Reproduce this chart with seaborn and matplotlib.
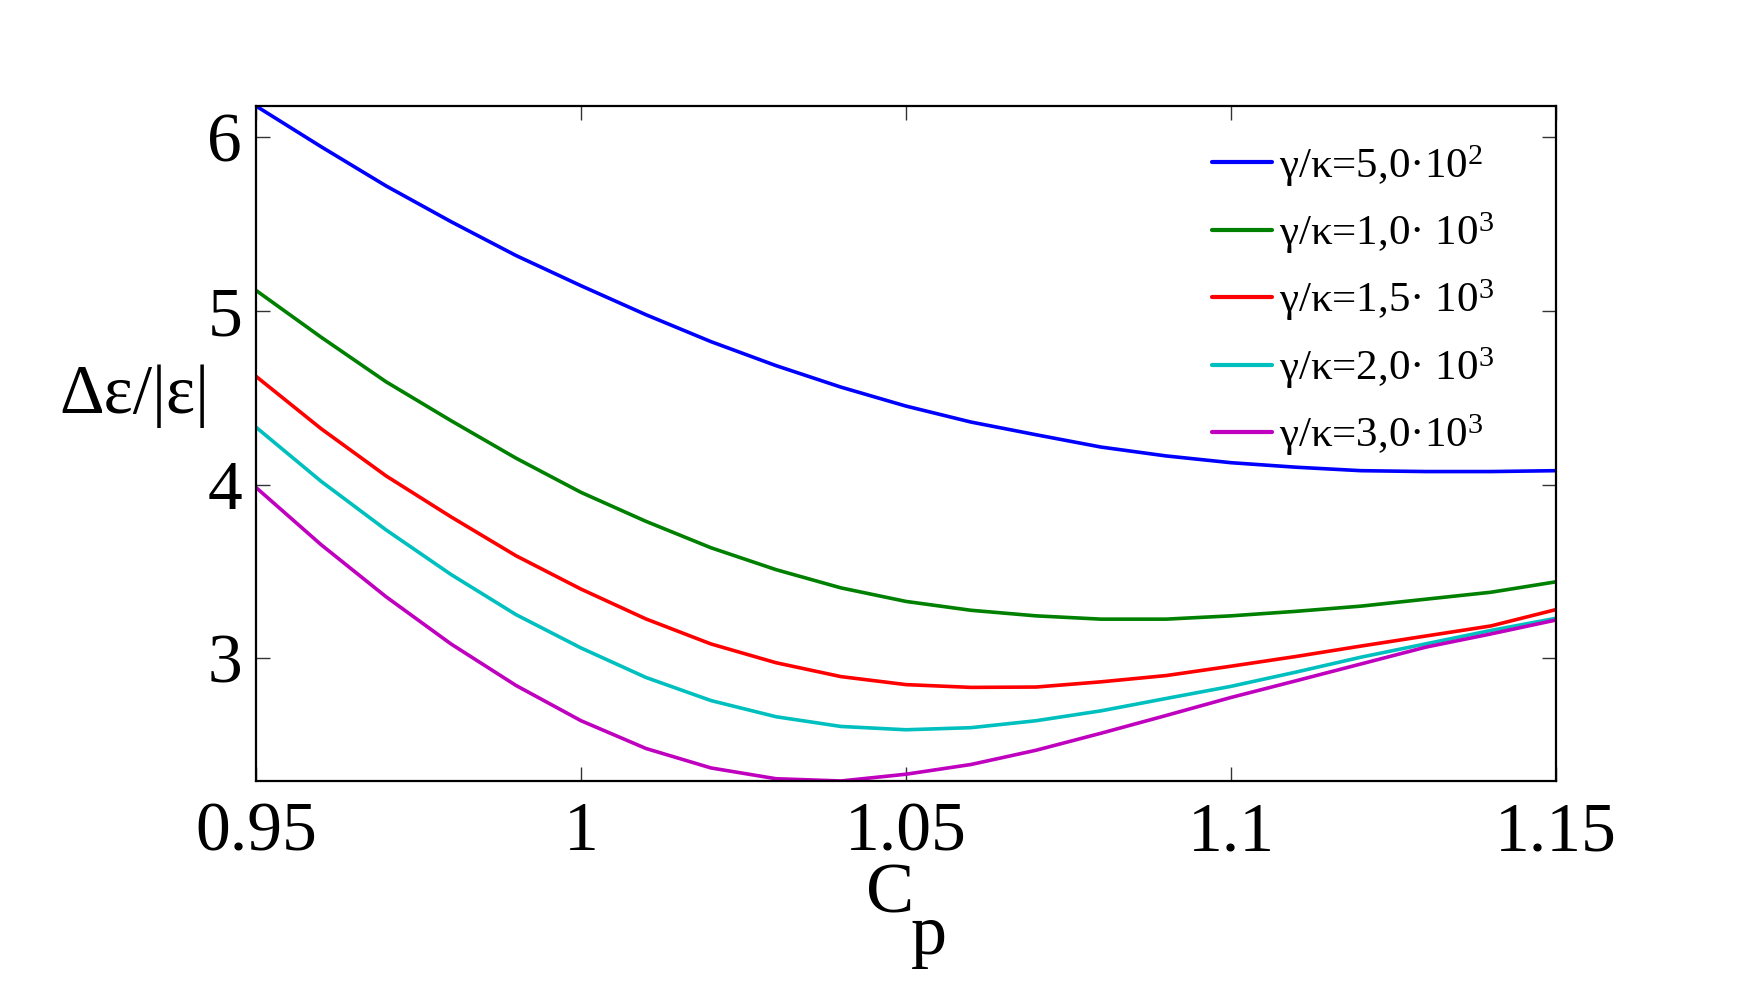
import numpy as np
import pandas as pd
import seaborn as sns
import matplotlib
matplotlib.use("Agg")
import matplotlib.pyplot as plt

# values
cp = [0.95, 0.96, 0.97, 0.98, 0.99, 1.00, 1.01, 1.02, 1.03, 1.04, 1.05,
      1.06, 1.07, 1.08, 1.09, 1.10, 1.11, 1.12, 1.13, 1.14, 1.15]

g500 = [6.18, 5.946, 5.72, 5.514, 5.319, 5.145, 4.978, 4.823, 4.685, 4.561, 4.452,
        4.36, 4.287, 4.216, 4.165, 4.126, 4.10, 4.08, 4.075, 4.075, 4.08]
g1000 = [5.118, 4.849, 4.592, 4.368, 4.152, 3.955, 3.788, 3.636, 3.51, 3.405, 3.327,
         3.276, 3.244, 3.225, 3.225, 3.244, 3.27, 3.30, 3.34, 3.38, 3.44]
g1500 = [4.623, 4.322, 4.05, 3.814, 3.59, 3.398, 3.226, 3.082, 2.974, 2.894, 2.848,
         2.832, 2.834, 2.864, 2.90, 2.954, 3.01, 3.07, 3.128, 3.186, 3.28]
g2000 = [4.33, 4.019, 3.739, 3.482, 3.251, 3.059, 2.889, 2.756, 2.663, 2.607, 2.588,
         2.60, 2.64, 2.697, 2.768, 2.838, 2.92, 3.006, 3.083, 3.16, 3.23]
g3000 = [3.983, 3.654, 3.354, 3.082, 2.843, 2.64, 2.48, 2.368, 2.306, 2.293, 2.332,
         2.388, 2.47, 2.568, 2.67, 2.774, 2.87, 2.967, 3.064, 3.14, 3.22]

labels = [r"γ/κ=5,0·$\mathregular{10^2}$",
          r"γ/κ=1,0· $\mathregular{10^3}$",
          r"γ/κ=1,5· $\mathregular{10^3}$",
          r"γ/κ=2,0· $\mathregular{10^3}$",
          r"γ/κ=3,0·$\mathregular{10^3}$"]
colors = ["#0000ff", "#008000", "#ff0000", "#00bfbf", "#bf00bf"]

series = [g500, g1000, g1500, g2000, g3000]
df = pd.concat([pd.DataFrame({"Cp": cp, "val": s, "curve": lab})
                for s, lab in zip(series, labels)], ignore_index=True)

sns.set_style("white")
plt.rcParams["font.family"] = "serif"
plt.rcParams["font.serif"] = ["Liberation Serif", "DejaVu Serif"]
plt.rcParams["mathtext.fontset"] = "custom"
plt.rcParams["mathtext.rm"] = "Liberation Serif"
plt.rcParams["text.color"] = "black"
plt.rcParams["xtick.color"] = "black"
plt.rcParams["ytick.color"] = "black"
plt.rcParams["axes.labelcolor"] = "black"
FONT = "Liberation Serif"

fig = plt.figure(figsize=(17.55, 10.05), dpi=100)
ax = fig.add_axes([0.1459, 0.2229, 0.7407, 0.6716])

sns.lineplot(data=df, x="Cp", y="val", hue="curve", palette=colors,
             hue_order=labels, linewidth=2.6, sort=False, ax=ax)

allv = np.concatenate(series)
ax.set_xlim(0.95, 1.15)
ax.set_ylim(allv.min(), allv.max())
ax.set_xticks([0.95, 1.0, 1.05, 1.1, 1.15])
ax.set_xticklabels(["0.95", "1", "1.05", "1.1", "1.15"], fontfamily=FONT)
ax.set_yticks([3, 4, 5, 6])
ax.set_yticklabels(["3", "4", "5", "6"], fontfamily=FONT)

for sp in ax.spines.values():
    sp.set_visible(True)
    sp.set_color("black")
    sp.set_linewidth(1.6)
ax.tick_params(axis="both", direction="in", length=10, width=1.0, color="#333333",
               labelcolor="black", labelsize=50,
               top=True, right=True, bottom=True, left=True)
ax.tick_params(axis="x", pad=15)
ax.tick_params(axis="y", pad=10)

ax.set_xlabel("C", fontsize=52, fontfamily=FONT, ha="center", va="center")
ax.xaxis.set_label_coords(0.488, -0.169)
ax.annotate("p", xy=(1.0, 0.0), xycoords=ax.xaxis.label, xytext=(-3, 17),
            textcoords="offset points", ha="left", va="top", fontsize=52,
            fontfamily=FONT)
ax.set_ylabel("Δε/|ε|", fontsize=50, fontfamily=FONT, rotation=0,
              ha="right", va="center")
ax.yaxis.set_label_coords(-0.036, 0.57)

handles, labs = ax.get_legend_handles_labels()
leg = ax.legend(handles, labs, loc="upper right", bbox_to_anchor=(0.972, 0.984),
                frameon=False, prop={"family": FONT, "size": 31},
                handlelength=1.4, handletextpad=0.15,
                labelspacing=0.5, borderaxespad=0.2)
for h in leg.get_lines():
    h.set_linewidth(3.0)

fig.savefig("out.png", dpi=100, facecolor="white")
